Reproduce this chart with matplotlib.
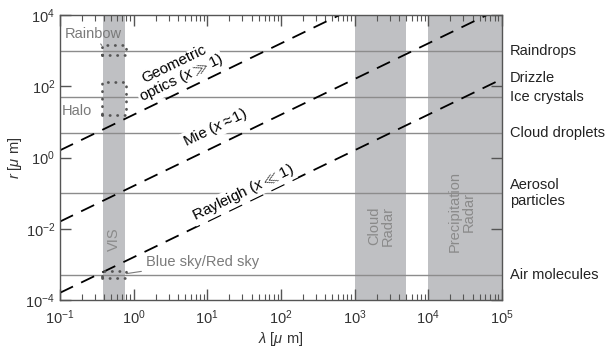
import numpy as np
import matplotlib
matplotlib.use('Agg')
import matplotlib.pyplot as plt
from matplotlib import ticker

plt.rcParams['font.family'] = ['Liberation Sans', 'DejaVu Sans']
plt.rcParams['mathtext.fontset'] = 'custom'
plt.rcParams['mathtext.rm'] = 'Liberation Sans'
plt.rcParams['mathtext.it'] = 'Liberation Sans:italic'

# size parameter boundaries x = 2*pi*r/lambda
size_params = [100, 1, 0.01]

# particle types (r in um)
particles = ['Raindrops', 'Ice crystals', 'Cloud droplets', 'Aerosol particles', 'Air molecules']
particle_r = [1000, 50, 5, 0.1, 5e-4]
right_labels = ['Raindrops', 'Drizzle', 'Ice crystals', 'Cloud droplets', 'Aerosol\nparticles', 'Air molecules']
right_label_r = [1000, 170, 50, 5, 0.1, 5e-4]

# wavelength bands (um)
bands = [(0.38, 0.76), (1000, 5000), (1e4, 1e5)]
band_names = ['VIS', 'Cloud\nRadar', 'Precipitation\nRadar']
band_label_pos = [(0.54, 0.005), (2300, 0.012), (2.9e4, 0.03)]

# optical phenomena boxes: lambda range, r range
phenomena = ['Rainbow', 'Halo', 'Blue sky/Red sky']
phen_lam = [(0.37, 0.8), (0.37, 0.8), (0.37, 0.8)]
phen_r = [(750, 1400), (16, 130), (4.2e-4, 6.6e-4)]

x_ticks = [1e-1, 1e0, 1e1, 1e2, 1e3, 1e4, 1e5]
y_ticks = [1e-4, 1e-2, 1e0, 1e2, 1e4]

band_color = '#bfc0c3'
fs = 10.5
fig = plt.figure(figsize=(6.09, 3.49), dpi=100)
ax = fig.add_axes([0.0985, 0.1404, 0.7255, 0.8166])
ax.set_xscale('log')
ax.set_yscale('log')
ax.set_xlim(1e-1, 1e5)
ax.set_ylim(1e-4, 1e4)

for (a, b) in bands:
    ax.axvspan(a, b, color=band_color, lw=0, zorder=1)
for name, (bx, by) in zip(band_names, band_label_pos):
    ax.text(bx, by, name, rotation=90, ha='center', va='center', fontsize=fs,
            color='#8a8a8a', linespacing=1.0, zorder=2)

for r in particle_r:
    ax.axhline(r, color='#8c8c8c', lw=1.0, zorder=3)

lam = np.logspace(-1, 5, 50)
for x in size_params:
    ax.plot(lam, x * lam / (2 * np.pi), color='black', lw=1.3,
            dashes=(8, 5), zorder=4)

# dotted boxes
for (l0, l1), (r0, r1) in zip(phen_lam, phen_r):
    ax.plot([l0, l1, l1, l0, l0], [r0, r0, r1, r1, r0], color='#555555',
            lw=2.0, ls=(0, (0.1, 2.6)), dash_capstyle='round', zorder=5)

gray_txt = '#7a7a7a'
ax.annotate('Rainbow', xy=(0.37, 1400), xytext=(0.115, 2900), fontsize=fs,
            color=gray_txt, va='center', ha='left',
            arrowprops=dict(arrowstyle='-', color=gray_txt, lw=0.8,
                            shrinkA=2, shrinkB=0), zorder=6)
ax.text(0.105, 20, 'Halo', fontsize=fs, color=gray_txt, va='center', ha='left', zorder=6)
ax.annotate('Blue sky/Red sky', xy=(0.8, 5.5e-4), xytext=(1.45, 1.15e-3), fontsize=fs,
            color=gray_txt, va='center', ha='left',
            arrowprops=dict(arrowstyle='-', color=gray_txt, lw=0.8,
                            shrinkA=1, shrinkB=0), zorder=6)

ang = np.degrees(np.arctan2(35.6, 73.6))
bbox = dict(facecolor='white', edgecolor='none', pad=0.5)
ax.text(4.0, 250, 'Geometric\noptics ($x \\gg 1$)', rotation=ang, ha='center',
        va='center', fontsize=11, rotation_mode='anchor', bbox=bbox, zorder=6,
        linespacing=1.0)
ax.text(12.8, 6.7, 'Mie ($x \\approx 1$)', rotation=ang, ha='center', va='center',
        fontsize=11, rotation_mode='anchor', bbox=bbox, zorder=6)
ax.text(30.6, 0.1, 'Rayleigh ($x \\ll 1$)', rotation=ang, ha='center', va='center',
        fontsize=11, rotation_mode='anchor', bbox=bbox, zorder=6)

for name, r in zip(right_labels, right_label_r):
    ax.text(1.018, r, name, transform=ax.get_yaxis_transform(), fontsize=fs,
            color='#222222', va='center', ha='left', linespacing=1.2)

ax.xaxis.set_major_locator(ticker.FixedLocator(x_ticks))
ax.xaxis.set_minor_locator(ticker.FixedLocator(
    [k * t for t in x_ticks[:-1] for k in range(2, 10)]))
ax.xaxis.set_minor_formatter(ticker.NullFormatter())
ax.yaxis.set_major_locator(ticker.FixedLocator(y_ticks))
ax.yaxis.set_minor_locator(ticker.NullLocator())
ax.tick_params(which='both', direction='in', top=True, right=True,
               colors='#555555', labelcolor='#333333', labelsize=fs)
ax.tick_params(which='major', length=8, width=1)
ax.tick_params(which='minor', length=4, width=0.8)
ax.tick_params(axis='x', which='major', pad=6)
for s in ax.spines.values():
    s.set_color('#555555')
    s.set_linewidth(1.0)
    s.set_zorder(7)

ax.set_xlabel('$\\lambda$ [$\\mu$ m]', fontsize=fs, color='#333333', labelpad=2)
ax.set_ylabel('$r$ [$\\mu$ m]', fontsize=fs, color='#333333', labelpad=1)

fig.savefig('out.png', dpi=100)
